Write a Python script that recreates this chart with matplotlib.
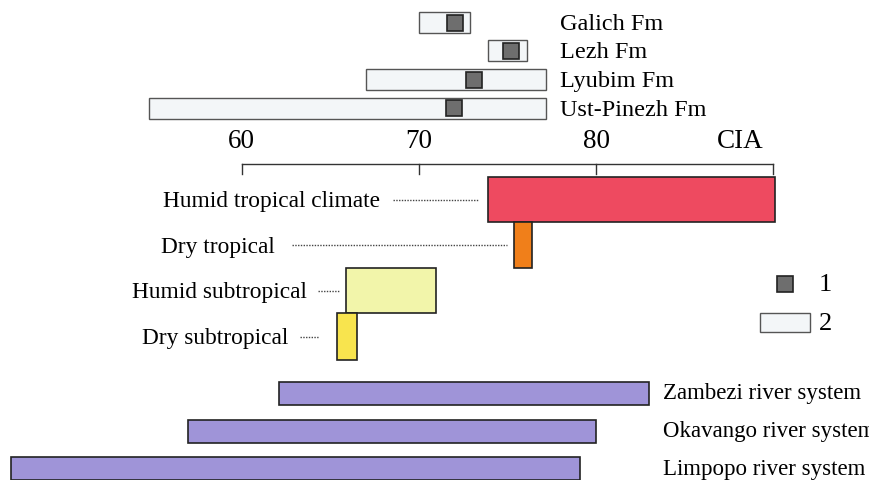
import matplotlib
matplotlib.use("Agg")
from matplotlib import pyplot as plt

plt.rcParams['font.family'] = ['Liberation Serif', 'DejaVu Serif']

# CIA ranges of the formations (min, max) and their mean values
fm_names = ["Galich Fm", "Lezh Fm", "Lyubim Fm", "Ust-Pinezh Fm"]
fm_min = [70.0, 73.9, 67.0, 54.8]
fm_max = [72.9, 76.1, 77.2, 77.2]
fm_mean = [72.05, 75.2, 73.1, 72.0]

# CIA ranges for climate zones
clim_names = ["Humid tropical climate", "Dry tropical", "Humid subtropical", "Dry subtropical"]
clim_min = [73.9, 75.4, 65.9, 65.4]
clim_max = [90.1, 76.4, 70.95, 66.5]
clim_colors = ["#EE4A60", "#F07F1A", "#F2F5AA", "#F8E44E"]

# CIA ranges for modern river systems
river_names = ["Zambezi river system", "Okavango river system", "Limpopo river system"]
river_min = [62.1, 57.0, 47.0]
river_max = [83.0, 80.0, 79.1]

ticks = [60, 70, 80]


def main():
    fig = plt.figure(figsize=(8.7, 4.81), dpi=100, facecolor="white")
    ax = fig.add_axes([0, 0, 1, 1])
    ax.set_xlim(46.37, 95.46)
    ax.set_ylim(481, 0)
    ax.axis("off")

    # Formation ranges with their means
    fm_y = [23.5, 51.5, 80.5, 109]
    for name, lo, hi, m, y in zip(fm_names, fm_min, fm_max, fm_mean, fm_y):
        ax.barh(y, hi - lo, left=lo, height=21, color="#F3F6F8",
                edgecolor="#555555", linewidth=1.0)
        ax.plot(m, y, marker="s", markersize=11, color="#6E6E6E",
                markeredgecolor="#222222", markeredgewidth=1.2)
        ax.text(77.97, y + 1, name, fontsize=17.5, va="center", ha="left")

    # CIA scale
    ax.plot([60, 90], [165, 165], color="#333333", lw=1.0)
    for t in ticks + [90]:
        ax.plot([t, t], [165, 175], color="#333333", lw=1.0)
    for t in ticks:
        ax.text(t, 142, str(t), fontsize=19.5, ha="center", va="center")
    ax.text(89.45, 142, "CIA", fontsize=19.5, ha="right", va="center")

    # Climate zones
    clim_y = [200.5, 246, 291.5, 337.5]
    clim_h = [45, 46, 45, 47]
    lead_from = [68.55, 62.85, 64.32, 63.30]
    lead_to = [73.35, 74.98, 65.50, 64.37]
    text_x = [67.82, 61.89, 63.70, 62.62]
    for i, name in enumerate(clim_names):
        y = clim_y[i]
        ax.barh(y, clim_max[i] - clim_min[i], left=clim_min[i], height=clim_h[i],
                color=clim_colors[i], edgecolor="#222222", linewidth=1.2)
        ax.plot([lead_from[i], lead_to[i]], [y, y], color="#444444",
                lw=1.0, ls=(0, (1, 1)))
        ax.text(text_x[i], y + 1, name, fontsize=16.8, ha="right", va="center")

    # Legend
    ax.plot(90.67, 285, marker="s", markersize=11, color="#6E6E6E",
            markeredgecolor="#222222", markeredgewidth=1.2)
    ax.barh(323.5, 2.82, left=89.26, height=19, color="#F3F6F8",
            edgecolor="#555555", linewidth=1.0)
    ax.text(92.55, 285, "1", fontsize=19, ha="left", va="center")
    ax.text(92.55, 324, "2", fontsize=19, ha="left", va="center")

    # River systems
    river_y = [394, 432, 469.5]
    for name, lo, hi, y in zip(river_names, river_min, river_max, river_y):
        ax.barh(y, hi - lo, left=lo, height=23, color="#9F94D8",
                edgecolor="#222222", linewidth=1.2)
        ax.text(83.8, y, name, fontsize=16.5, ha="left", va="center")

    plt.savefig("out.png", dpi=100, facecolor="white")


if __name__ == "__main__":
    main()
